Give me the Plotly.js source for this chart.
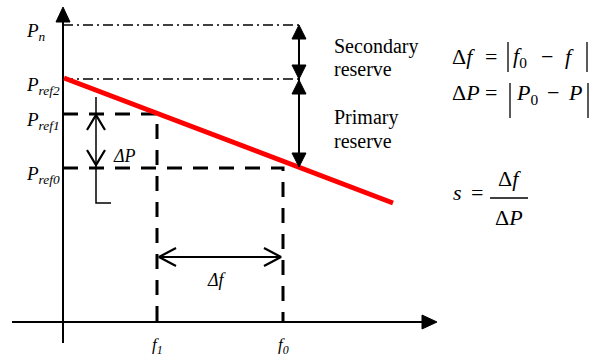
<!DOCTYPE html>
<html>
<head>
<meta charset="utf-8">
<script src="https://cdn.plot.ly/plotly-3.0.1.min.js"></script>
<style>html,body{margin:0;padding:0;background:#fff;}#chart{width:600px;height:356px;}</style>
</head>
<body>
<div id="chart"></div>
<script>
// ---- diagram values (picture units: x to the right, y downward) ----
const levelNames  = ['Pn', 'Pref2', 'Pref1', 'Pref0'];
const levelLabels = ['<i>P</i><sub><i>n</i></sub>', '<i>P</i><sub><i>ref2</i></sub>', '<i>P</i><sub><i>ref1</i></sub>', '<i>P</i><sub><i>ref0</i></sub>'];
const levelY      = [25, 79, 114, 168];
const freqLabels  = ['<i>f</i><sub><i>1</i></sub>', '<i>f</i><sub><i>0</i></sub>'];
const freqX       = [157, 283];
const droopX      = [64, 393];
const droopY      = [78, 203];
const originX     = 63;
const originY     = 322;
const axisXEnd    = 437;
const axisYEnd    = 7;
const reserveX    = 299;
const reserveEndY = 167;
const reserveText = [['Secondary', 'reserve'], ['Primary', 'reserve']];
const reserveTextY = [[46, 69], [117, 141]];

const traces = [];
const ann = [];
const BLACK = '#000';

function line(x, y, width, dash, color) {
  traces.push({type: 'scatter', mode: 'lines', x: x, y: y, hoverinfo: 'skip',
    line: {color: color || BLACK, width: width, dash: dash || 'solid'}});
}
function filledHead(tx, ty, dx, dy, len, half) {
  const px = -dy, py = dx;
  const bx = tx - dx * len, by = ty - dy * len;
  traces.push({type: 'scatter', mode: 'lines', fill: 'toself', fillcolor: BLACK, hoverinfo: 'skip',
    x: [tx, bx + px * half, bx - px * half, tx], y: [ty, by + py * half, by - py * half, ty],
    line: {color: BLACK, width: 1}});
}
function openHead(tx, ty, dx, dy, len, half, w) {
  const px = -dy, py = dx;
  const bx = tx - dx * len, by = ty - dy * len;
  traces.push({type: 'scatter', mode: 'lines', hoverinfo: 'skip',
    x: [bx + px * half, tx, bx - px * half], y: [by + py * half, ty, by - py * half],
    line: {color: BLACK, width: w}});
}
function text(t, x, y, size, xanchor) {
  ann.push({text: t, x: x, y: y, xref: 'x', yref: 'y', showarrow: false,
    xanchor: xanchor || 'left', yanchor: 'middle',
    font: {family: 'Liberation Serif', size: size, color: BLACK}});
}

// axes
line([originX, originX], [343, axisYEnd + 12], 2);
filledHead(originX, axisYEnd, 0, -1, 15, 7);
line([12, axisXEnd - 12], [originY, originY], 2);
filledHead(axisXEnd, originY, 1, 0, 15, 7);

// dash-dot reserve levels
line([originX, reserveX], [levelY[0], levelY[0]], 1.6, '10px,4px,2px,4px');
line([originX, reserveX], [levelY[1], levelY[1]], 1.6, '10px,4px,2px,4px');

// dashed operating points
line([originX, freqX[0], freqX[0]], [levelY[2], levelY[2], originY], 3, '15px,11px');
line([originX, freqX[1], freqX[1]], [levelY[3], levelY[3], originY], 3, '15px,11px');

// droop line
line(droopX, droopY, 5, 'solid', '#ff0000');

// reserve arrows
line([reserveX, reserveX], [levelY[0] + 8, reserveEndY - 8], 2);
filledHead(reserveX, levelY[0], 0, -1, 14, 7);
filledHead(reserveX, levelY[1], 0, 1, 14, 7);
filledHead(reserveX, levelY[1] + 1, 0, -1, 14, 7);
filledHead(reserveX, reserveEndY, 0, 1, 14, 7);

// ΔP bracket
line([96, 96, 111], [97, 203, 203], 1.5);
openHead(96, levelY[2] + 1, 0, -1, 15, 9, 2.2);
openHead(96, levelY[3] - 3, 0, 1, 15, 9, 2.2);

// Δf arrow
line([freqX[0] + 2, freqX[1] - 2], [257, 257], 2);
openHead(freqX[0] + 2, 257, -1, 0, 17, 9, 2.2);
openHead(freqX[1] - 2, 257, 1, 0, 17, 9, 2.2);

// labels
levelLabels.forEach((t, i) => text(t, 24, levelY[i] + 7, 19, 'left'));
freqLabels.forEach((t, i) => text(t, freqX[i], 346, 17, 'center'));
text('<i>ΔP</i>', 111, 156, 18, 'left');
text('<i>Δf</i>', 217, 280, 18, 'center');
reserveText.forEach((pair, i) => pair.forEach((t, j) => text(t, 332, reserveTextY[i][j], 20, 'left')));

// formulas
const F = 22;
text('Δ<i>f</i>', 450, 56, F, 'left');
text('=', 483, 56, F, 'left');
text('<i>f</i><sub>0</sub>', 511, 57, F, 'left');
text('−', 539, 56, F, 'left');
text('<i>f</i>', 563, 56, F, 'left');
line([508, 508], [42, 72], 1.3);
line([587, 587], [42, 72], 1.3);

text('Δ<i>P</i>', 450, 92, F, 'left');
text('=', 483, 92, F, 'left');
text('<i>P</i><sub>0</sub>', 514, 94, F, 'left');
text('−', 545, 92, F, 'left');
text('<i>P</i>', 566, 92, F, 'left');
line([510, 510], [83, 118], 1.3);
line([588, 588], [83, 118], 1.3);

text('<i>s</i>', 451, 192, F, 'left');
text('=', 469, 192, F, 'left');
text('Δ<i>f</i>', 509, 178, F, 'center');
text('Δ<i>P</i>', 509, 217, F, 'center');
line([490, 528], [198, 198], 1.3);

const layout = {
  width: 600, height: 356,
  margin: {l: 0, r: 0, t: 0, b: 0, pad: 0},
  paper_bgcolor: '#fff', plot_bgcolor: '#fff',
  showlegend: false,
  xaxis: {range: [0, 600], visible: false},
  yaxis: {range: [356, 0], visible: false},
  annotations: ann
};
Plotly.newPlot('chart', traces, layout, {displayModeBar: false});
</script>
</body>
</html>
